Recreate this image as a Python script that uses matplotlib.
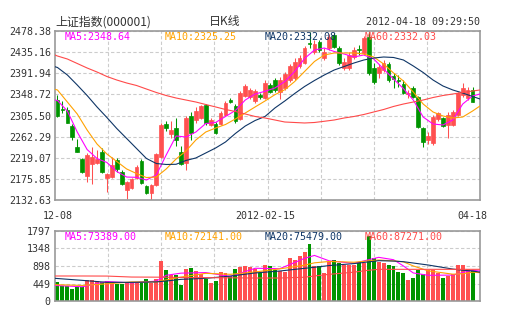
import matplotlib
matplotlib.use("Agg")
import matplotlib.pyplot as plt
import matplotlib.transforms as mtransforms
import numpy as np

# daily candles 2011-12-08 .. 2012-04-18
OPEN = [2337.2, 2318.8, 2316.8, 2284.0, 2240.5, 2216.5, 2181.7, 2206.3, 2208.4, 2230.8,
        2177.6, 2179.7, 2214.5, 2189.9, 2153.1, 2157.2, 2177.6, 2212.4, 2161.3, 2146.9,
        2163.3, 2220.6, 2288.1, 2267.7, 2279.9, 2230.8, 2208.4, 2304.5, 2296.9, 2300.4,
        2326.0, 2286.1, 2289.1, 2288.1, 2306.5, 2336.2, 2325.0, 2298.4, 2344.8, 2343.3,
        2335.2, 2347.5, 2341.3, 2367.9, 2378.1, 2353.6, 2361.8, 2378.1, 2381.6, 2406.8,
        2412.9, 2453.8, 2435.4, 2455.9, 2423.1, 2443.0, 2470.2, 2443.6, 2402.7, 2402.7,
        2425.2, 2441.5, 2433.4, 2466.7, 2402.7, 2391.8, 2398.6, 2410.2, 2387.0, 2379.1,
        2369.3, 2348.9, 2361.2, 2343.3, 2279.3, 2255.4, 2248.6, 2297.7, 2299.8, 2286.1,
        2286.1, 2306.5, 2347.5, 2340.7, 2357.7]
CLOSE = [2304.5, 2316.8, 2290.8, 2260.9, 2231.4, 2189.9, 2224.7, 2220.6, 2216.5, 2189.9,
         2185.8, 2204.3, 2196.1, 2165.4, 2169.4, 2175.6, 2200.1, 2167.4, 2146.9, 2163.3,
         2226.7, 2286.1, 2279.9, 2276.4, 2255.4, 2206.3, 2299.4, 2269.7, 2314.7, 2324.0,
         2290.2, 2295.3, 2269.7, 2310.6, 2331.1, 2334.1, 2294.2, 2351.5, 2365.2, 2357.7,
         2355.6, 2343.3, 2371.9, 2354.3, 2357.7, 2378.1, 2390.4, 2406.8, 2415.6, 2423.1,
         2443.6, 2450.8, 2451.8, 2439.5, 2435.4, 2466.7, 2446.3, 2412.9, 2414.9, 2429.3,
         2439.5, 2439.5, 2464.1, 2391.8, 2374.7, 2405.3, 2412.3, 2378.1, 2380.2, 2377.1,
         2350.9, 2352.1, 2344.0, 2282.6, 2251.9, 2263.6, 2303.0, 2310.0, 2284.0, 2306.5,
         2313.3, 2350.9, 2361.2, 2357.7, 2333.7]
HIGH = [2347.5, 2335.2, 2323.1, 2288.1, 2257.4, 2218.5, 2228.8, 2241.0, 2234.9, 2238.9,
        2187.9, 2220.6, 2218.5, 2194.0, 2171.5, 2177.6, 2204.3, 2216.5, 2163.3, 2165.4,
        2228.8, 2290.8, 2294.2, 2294.2, 2300.4, 2243.1, 2304.5, 2312.7, 2323.1, 2327.0,
        2329.0, 2300.4, 2292.2, 2314.7, 2335.2, 2341.3, 2329.0, 2355.6, 2369.9, 2361.8,
        2359.7, 2351.5, 2378.1, 2371.9, 2382.2, 2384.2, 2394.5, 2410.9, 2423.1, 2429.3,
        2447.7, 2476.0, 2460.0, 2460.0, 2443.6, 2472.2, 2474.3, 2447.7, 2423.1, 2435.4,
        2445.6, 2449.7, 2468.2, 2478.4, 2412.9, 2410.9, 2419.1, 2414.9, 2392.5, 2388.4,
        2378.1, 2357.7, 2365.9, 2345.4, 2282.0, 2271.7, 2306.5, 2312.7, 2302.4, 2312.7,
        2316.8, 2353.6, 2371.3, 2363.8, 2364.4]
LOW = [2302.4, 2310.6, 2290.2, 2255.4, 2230.8, 2187.9, 2169.4, 2165.4, 2206.3, 2187.9,
       2149.0, 2177.6, 2189.9, 2163.3, 2134.0, 2155.1, 2175.6, 2165.4, 2144.9, 2133.5,
       2161.3, 2219.0, 2273.8, 2259.5, 2243.1, 2204.3, 2194.0, 2255.4, 2290.2, 2298.4,
       2286.7, 2284.0, 2267.7, 2286.1, 2304.5, 2331.1, 2290.2, 2296.3, 2343.3, 2339.3,
       2331.1, 2339.3, 2339.3, 2351.5, 2353.6, 2339.3, 2357.7, 2374.0, 2378.1, 2402.7,
       2410.9, 2443.6, 2431.3, 2435.4, 2419.1, 2439.5, 2443.6, 2408.8, 2398.6, 2398.6,
       2421.1, 2429.3, 2429.3, 2388.4, 2369.9, 2382.2, 2394.5, 2374.0, 2361.8, 2363.8,
       2348.9, 2341.9, 2341.3, 2279.9, 2241.7, 2246.6, 2245.1, 2294.2, 2282.0, 2258.8,
       2284.0, 2304.5, 2343.3, 2337.2, 2333.1]
VOLUME = [495, 385, 385, 308, 367, 351, 539, 539, 513, 495,
          520, 495, 436, 449, 470, 470, 470, 495, 573, 470,
          556, 1027, 796, 667, 676, 410, 830, 856, 770, 685,
          565, 470, 513, 744, 727, 650, 821, 860, 898, 880,
          813, 710, 924, 898, 796, 770, 736, 1112, 1052, 1150,
          1266, 1463, 900, 898, 727, 1009, 1052, 984, 924, 924,
          924, 1009, 967, 1668, 1095, 1009, 967, 924, 898, 753,
          727, 539, 599, 796, 685, 796, 796, 727, 582, 650,
          693, 924, 924, 813, 796]

# moving average lines, sampled at these candle positions
MA_IDX = [-0.5, 0, 2, 4, 6, 8, 10, 12, 14, 16, 18, 20, 22, 24, 26, 28, 30, 32, 34, 36,
          38, 40, 42, 44, 46, 48, 50, 52, 54, 56, 58, 60, 62, 64, 66, 68, 70, 72, 74, 76,
          78, 80, 82, 84, 85.5]
MA5 = [2337.2, 2336.2, 2314.7, 2271.7, 2235.9, 2217.6, 2209.4, 2190.9, 2179.6, 2179.0,
       2173.5, 2183.8, 2224.7, 2263.6, 2261.5, 2271.7, 2289.1, 2291.2, 2303.5, 2315.7,
       2337.2, 2349.5, 2355.0, 2361.8, 2375.0, 2395.5, 2422.1, 2439.5, 2443.6, 2436.4,
       2431.3, 2425.2, 2429.3, 2421.1, 2400.6, 2380.2, 2360.7, 2337.2, 2302.4, 2288.1,
       2286.1, 2296.3, 2329.0, 2345.4, 2349.5]
MA10 = [2359.1, 2357.7, 2333.1, 2308.6, 2275.8, 2247.2, 2226.7, 2211.4, 2196.1, 2186.8,
        2178.6, 2179.7, 2196.1, 2216.5, 2232.9, 2255.4, 2271.7, 2279.9, 2287.1, 2298.4,
        2310.6, 2323.0, 2335.2, 2348.1, 2358.3, 2375.0, 2395.5, 2416.0, 2429.3, 2433.4,
        2433.4, 2433.4, 2431.3, 2425.2, 2410.9, 2392.5, 2376.1, 2353.6, 2329.0, 2312.7,
        2304.5, 2300.4, 2302.4, 2314.7, 2325.0]
MA20 = [2405.3, 2403.7, 2388.4, 2367.9, 2346.4, 2323.0, 2301.4, 2278.9, 2258.5, 2238.0,
        2217.6, 2207.3, 2205.3, 2205.7, 2213.5, 2218.6, 2228.8, 2239.0, 2251.3, 2268.7,
        2284.0, 2295.3, 2303.5, 2320.9, 2335.2, 2350.5, 2364.8, 2377.1, 2388.4, 2398.6,
        2405.7, 2412.9, 2419.1, 2423.1, 2425.2, 2424.2, 2419.1, 2406.8, 2393.5, 2378.1,
        2365.9, 2357.7, 2351.5, 2344.4, 2339.3]
MA60 = [2429.3, 2427.2, 2421.1, 2411.9, 2402.7, 2394.5, 2385.3, 2378.1, 2372.0, 2366.9,
        2359.7, 2352.6, 2346.4, 2341.3, 2337.2, 2333.1, 2328.0, 2323.0, 2317.8, 2313.7,
        2308.6, 2303.5, 2300.4, 2296.3, 2292.2, 2291.2, 2290.2, 2291.2, 2293.7, 2296.3,
        2300.4, 2303.5, 2307.6, 2312.7, 2317.8, 2324.0, 2329.0, 2333.1, 2337.2, 2342.3,
        2346.4, 2349.5, 2352.6, 2355.6, 2357.7]

VMA_IDX = [-0.5, 5, 10, 15, 20, 22, 25, 30, 35, 40, 45, 50, 52, 55, 60, 63, 65, 68, 70, 72,
           75, 80, 82, 84, 85.5]
VOL_MA5 = [400, 365, 500, 465, 510, 660, 715, 730, 630, 840, 830, 1095, 1170, 1030, 967,
           1060, 1121, 1060, 900, 720, 660, 665, 730, 790, 770]
VOL_MA10 = [420, 400, 440, 490, 490, 540, 614, 710, 685, 745, 825, 920, 980, 1015, 995,
            1030, 1052, 1030, 1005, 900, 775, 688, 700, 740, 727]
VOL_MA20 = [582, 530, 479, 479, 490, 513, 556, 582, 640, 720, 770, 839, 865, 910, 960,
            1005, 1035, 1025, 1009, 975, 924, 820, 790, 770, 740]
VOL_MA60 = [642, 642, 640, 615, 612, 610, 605, 600, 595, 590, 590, 610, 642, 685, 740,
            790, 813, 813, 813, 813, 813, 813, 813, 813, 813]

PRICE_TICKS = [2132.63, 2175.85, 2219.07, 2262.29, 2305.50, 2348.72, 2391.94, 2435.16, 2478.38]
VOL_TICKS = [0, 449, 898, 1348, 1797]
DATE_LABELS = ["12-08", "2012-02-15", "04-18"]
DATE_IDX = [0, 42, 84]

PRICE_LEGEND = ["MA5:2348.64", "MA10:2325.25", "MA20:2332.08", "MA60:2332.03"]
VOL_LEGEND = ["MA5:73389.00", "MA10:72141.00", "MA20:75479.00", "MA60:87271.00"]

RED = "#ff5050"
GREEN = "#009400"
MA_COLORS = ["#ff00ff", "#ffa200", "#0e3566", "#ff4a4a"]
TEXT = "#333333"
MONO = "DejaVu Sans Mono"
CJK = ["Noto Sans CJK SC", "DejaVu Sans"]

W, H = 505, 330
fig = plt.figure(figsize=(W / 100, H / 100), dpi=100)
fig.patch.set_facecolor("white")


def px_rect(left, top, right, bottom):
    return [left / W, 1 - bottom / H, (right - left) / W, (bottom - top) / H]


ax = fig.add_axes(px_rect(55, 31, 480, 200))
axv = fig.add_axes(px_rect(55, 231, 480, 301))

x = np.arange(len(OPEN))
o = np.array(OPEN)
c = np.array(CLOSE)
colors = np.where(c >= o, RED, GREEN)

# candles
ax.vlines(x, LOW, HIGH, colors=colors, linewidth=0.75, zorder=2)
ax.bar(x, np.abs(c - o), bottom=np.minimum(o, c), width=0.75, color=colors,
       edgecolor=colors, linewidth=0.5, zorder=2)
for vals, col in zip([MA5, MA10, MA20, MA60], MA_COLORS):
    ax.plot(MA_IDX, vals, color=col, linewidth=0.8, zorder=3)

# volume
axv.bar(x, VOLUME, width=0.8, color=colors, linewidth=0, zorder=2)
for vals, col in zip([VOL_MA5, VOL_MA10, VOL_MA20, VOL_MA60], MA_COLORS):
    axv.plot(VMA_IDX, vals, color=col, linewidth=0.8, zorder=3)

grid_x = [-0.5 + k * 86 / 8 for k in range(1, 8)]
for a in (ax, axv):
    a.set_xlim(-0.5, 85.5)
    a.set_xticks(grid_x)
    a.tick_params(axis="x", length=0, labelbottom=False)
    a.tick_params(axis="y", length=0, pad=3, labelsize=7.2, labelcolor=TEXT)
    a.grid(True, color="#cccccc", linestyle=(0, (3, 2)), linewidth=0.8)
    a.set_axisbelow(True)
    for s in a.spines.values():
        s.set_color("#999999")
        s.set_linewidth(1.2)
    for lab in a.get_yticklabels():
        lab.set_fontfamily(MONO)

ax.set_ylim(PRICE_TICKS[0], PRICE_TICKS[-1])
ax.set_yticks(PRICE_TICKS)
ax.set_yticklabels([f"{v:.2f}" for v in PRICE_TICKS], fontfamily=MONO)
axv.set_ylim(VOL_TICKS[0], VOL_TICKS[-1])
axv.set_yticks(VOL_TICKS)
axv.set_yticklabels([str(v) for v in VOL_TICKS], fontfamily=MONO)

# date labels under the price panel
trans = mtransforms.blended_transform_factory(ax.transData, ax.transAxes)
for i, lab in zip(DATE_IDX, DATE_LABELS):
    ax.text(i, -0.095, lab, transform=trans, ha="center", va="center",
            fontsize=7.2, fontfamily=MONO, color=TEXT)

# header
fig.text(55 / W, 1 - 22 / H, "上证指数(000001)", fontsize=8.6, family=CJK,
         color=TEXT, va="center", ha="left")
fig.text(225 / W, 1 - 22 / H, "日K线", fontsize=8.6, family=CJK,
         color=TEXT, va="center", ha="center")
fig.text(480 / W, 1 - 22 / H, "2012-04-18 09:29:50", fontsize=7.2, fontfamily=MONO,
         color=TEXT, va="center", ha="right")

# MA legends
for k, (t1, t2) in enumerate(zip(PRICE_LEGEND, VOL_LEGEND)):
    fig.text((65 + 100 * k) / W, 1 - 37 / H, t1, fontsize=7.2, fontfamily=MONO,
             color=MA_COLORS[k], va="center", ha="left")
    fig.text((65 + 100 * k) / W, 1 - 237 / H, t2, fontsize=7.2, fontfamily=MONO,
             color=MA_COLORS[k], va="center", ha="left")

fig.savefig("out.png", dpi=100, facecolor="white")
